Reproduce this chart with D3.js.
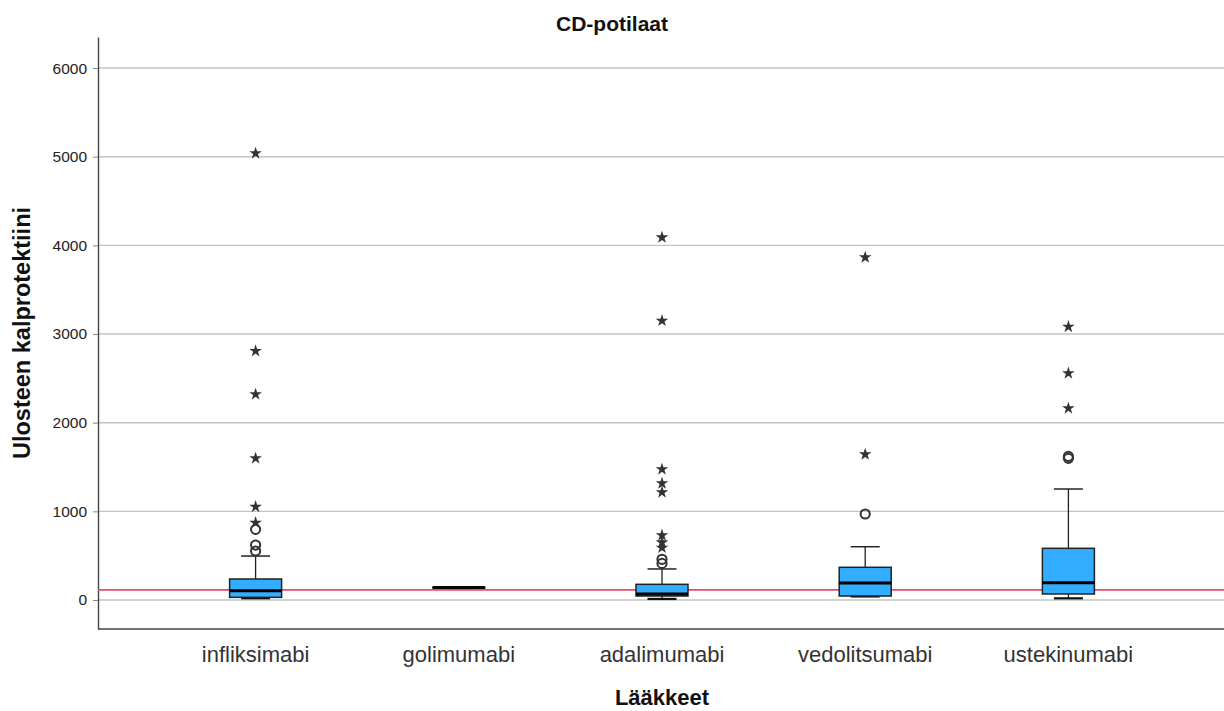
<!DOCTYPE html>
<html>
<head>
<meta charset="utf-8">
<script src="https://d3js.org/d3.v7.min.js"></script>
<style>
  body { margin: 0; background: #fff; }
  svg { display: block; font-family: Arial, "Liberation Sans", sans-serif; }
</style>
</head>
<body>
<svg id="chart" width="1224" height="711"></svg>
<script>
// values
var drugs = ["infliksimabi", "golimumabi", "adalimumabi", "vedolitsumabi", "ustekinumabi"]
var whiskLow  = [20, 136, 12, 40, 19]
var q1        = [30, 138, 45, 45, 68]
var medians   = [105, 140, 68, 192, 195]
var q3        = [237, 142, 177, 369, 583]
var whiskHigh = [496, 144, 350, 601, 1252]
var outliers  = [[553, 620, 797], [], [413, 459], [970], [1598, 1620]]
var extremes  = [[872, 1052, 1598, 2320, 2808, 5038], [], [590, 650, 730, 1215, 1316, 1474, 3150, 4090], [1643, 3865], [2162, 2557, 3082]]
var yTicks = [0, 1000, 2000, 3000, 4000, 5000, 6000]
var refValue = 115

var plotL = 98, plotR = 1224, plotT = 37, plotB = 629
var svg = d3.select("#chart")

var x = d3.scaleBand().domain(drugs).range([154, 1170])
var y = d3.scaleLinear().domain([-327, 6350]).range([plotB, plotT])

// gridlines
svg.append("g")
  .selectAll("line")
  .data(yTicks)
  .join("line")
    .attr("x1", plotL).attr("x2", plotR)
    .attr("y1", d => y(d)).attr("y2", d => y(d))
    .attr("stroke", "#c4c4c4")
    .attr("stroke-width", 1.4)

// y axis
var yAxis = svg.append("g")
  .attr("transform", `translate(${plotL},0)`)
  .call(d3.axisLeft(y).tickValues(yTicks).tickSize(5).tickSizeOuter(0).tickPadding(6).tickFormat(d3.format("d")))
yAxis.select(".domain").attr("stroke", "#444").attr("stroke-width", 1.4)
yAxis.selectAll(".tick line").attr("stroke", "#888")
yAxis.selectAll("text").style("font-size", "15.5px").attr("fill", "#222")

// bottom frame line
svg.append("line")
  .attr("x1", plotL).attr("x2", plotR)
  .attr("y1", plotB).attr("y2", plotB)
  .attr("stroke", "#444").attr("stroke-width", 1.6)

// reference line
svg.append("line")
  .attr("x1", plotL).attr("x2", plotR)
  .attr("y1", y(refValue)).attr("y2", y(refValue))
  .attr("stroke", "#e44c6e").attr("stroke-width", 1.8)

var boxW = 52, capW = 27
var rows = drugs.map((d, i) => ({
  name: d, lo: whiskLow[i], q1: q1[i], med: medians[i], q3: q3[i], hi: whiskHigh[i],
  out: outliers[i], ext: extremes[i]
}))

var g = svg.append("g").selectAll("g")
  .data(rows)
  .join("g")
    .attr("transform", d => `translate(${x(d.name) + x.bandwidth() / 2},0)`)

// whiskers
g.append("line")
  .attr("y1", d => y(d.hi)).attr("y2", d => y(d.q3))
  .attr("stroke", "#222").attr("stroke-width", 1.3)
g.append("line")
  .attr("y1", d => y(d.lo)).attr("y2", d => y(d.q1))
  .attr("stroke", "#222").attr("stroke-width", 1.3)
g.append("line")
  .attr("x1", -capW / 2 - 1).attr("x2", capW / 2 + 1)
  .attr("y1", d => y(d.hi)).attr("y2", d => y(d.hi))
  .attr("stroke", "#222").attr("stroke-width", 1.5)
g.append("line")
  .attr("x1", -capW / 2 - 1).attr("x2", capW / 2 + 1)
  .attr("y1", d => y(d.lo)).attr("y2", d => y(d.lo))
  .attr("stroke", "#111").attr("stroke-width", 2.2)

// boxes
g.append("rect")
  .attr("x", -boxW / 2).attr("width", boxW)
  .attr("y", d => y(d.q3))
  .attr("height", d => Math.max(0.5, y(d.q1) - y(d.q3)))
  .attr("fill", "#33adff")
  .attr("stroke", "#222").attr("stroke-width", 1.5)

// medians
g.append("line")
  .attr("x1", -boxW / 2).attr("x2", boxW / 2)
  .attr("y1", d => y(d.med)).attr("y2", d => y(d.med))
  .attr("stroke", "#000").attr("stroke-width", 3)

// outliers (circles)
g.selectAll("circle")
  .data(d => d.out)
  .join("circle")
    .attr("cy", d => y(d))
    .attr("r", 4.6)
    .attr("fill", "none")
    .attr("stroke", "#333").attr("stroke-width", 2)

// extremes (stars)
var star = d3.symbol().type(d3.symbolStar).size(50)
g.selectAll("path.ext")
  .data(d => d.ext)
  .join("path")
    .attr("class", "ext")
    .attr("d", star)
    .attr("transform", d => `translate(0,${y(d)})`)
    .attr("fill", "#333")

// x category labels
svg.append("g")
  .selectAll("text")
  .data(drugs)
  .join("text")
    .attr("x", d => x(d) + x.bandwidth() / 2)
    .attr("y", 662)
    .attr("text-anchor", "middle")
    .style("font-size", "22px")
    .attr("fill", "#333")
    .text(d => d)

// titles
svg.append("text")
  .attr("x", 612).attr("y", 31)
  .attr("text-anchor", "middle")
  .style("font-size", "21px").style("font-weight", "bold")
  .attr("fill", "#111")
  .text("CD-potilaat")

svg.append("text")
  .attr("x", 662).attr("y", 705)
  .attr("text-anchor", "middle")
  .style("font-size", "22px").style("font-weight", "bold")
  .attr("fill", "#111")
  .text("Lääkkeet")

svg.append("text")
  .attr("transform", "translate(30,333) rotate(-90)")
  .attr("text-anchor", "middle")
  .style("font-size", "23.5px").style("font-weight", "bold")
  .attr("fill", "#111")
  .text("Ulosteen kalprotektiini")
</script>
</body>
</html>
